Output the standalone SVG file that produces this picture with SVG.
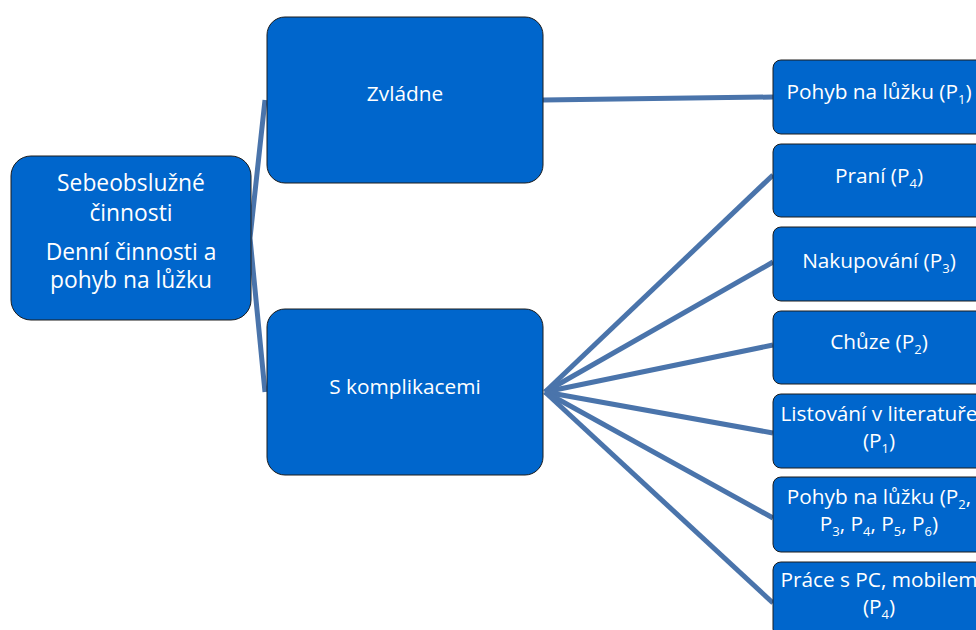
<svg xmlns="http://www.w3.org/2000/svg" width="976" height="630" viewBox="0 0 976 630">
  <style>
    .box { fill: #0066cc; stroke: #1c1c1c; stroke-width: 1; }
    .lbl { fill: #ffffff; font-family: "Open Sans", "Noto Sans", sans-serif; text-anchor: middle; }
    .mid { font-size: 22.8px; }
    .sm { font-size: 20.8px; }
    .sub { font-size: 13px; }
    .link { stroke: #4a74ab; stroke-width: 5; fill: none; stroke-linecap: butt; }
  </style>
  <rect width="976" height="630" fill="#ffffff"/>

  <!-- connectors -->
  <g id="connectors">
    <polyline class="link" stroke-width="4" points="265,100 250,238 265,392"/>
    <line class="link" x1="543" y1="100" x2="773" y2="97"/>
    <line class="link" x1="545" y1="392" x2="773" y2="175"/>
    <line class="link" x1="545" y1="392" x2="773" y2="262"/>
    <line class="link" x1="545" y1="392" x2="773" y2="345"/>
    <line class="link" x1="545" y1="392" x2="773" y2="433"/>
    <line class="link" x1="545" y1="392" x2="773" y2="518"/>
    <line class="link" x1="545" y1="392" x2="773" y2="603"/>
  </g>

  <!-- root -->
  <g id="root">
    <rect class="box" x="11" y="156" width="240" height="164" rx="20"/>
    <text class="lbl mid" x="131" y="191">Sebeobslužné</text>
    <text class="lbl mid" x="131" y="221">činnosti</text>
    <text class="lbl mid" x="131" y="260">Denní činnosti a</text>
    <text class="lbl mid" x="131" y="288">pohyb na lůžku</text>
  </g>

  <!-- second level -->
  <g id="zvladne">
    <rect class="box" x="267" y="17" width="276" height="166" rx="18"/>
    <text class="lbl sm" x="405" y="101">Zvládne</text>
  </g>
  <g id="s-komplikacemi">
    <rect class="box" x="267" y="309" width="276" height="166" rx="18"/>
    <text class="lbl sm" x="405" y="394">S komplikacemi</text>
  </g>

  <!-- leaves -->
  <g id="zvladne-pohyb">
    <rect class="box" x="773" y="60" width="212" height="74" rx="8"/>
    <text class="lbl sm" x="879" y="99">Pohyb na lůžku (P<tspan class="sub" dy="5">1</tspan><tspan dy="-5">)</tspan></text>
  </g>
  <g id="prani">
    <rect class="box" x="773" y="144" width="212" height="73" rx="8"/>
    <text class="lbl sm" x="879" y="183">Praní (P<tspan class="sub" dy="5">4</tspan><tspan dy="-5">)</tspan></text>
  </g>
  <g id="nakupovani">
    <rect class="box" x="773" y="227" width="212" height="74" rx="8"/>
    <text class="lbl sm" x="879" y="268">Nakupování (P<tspan class="sub" dy="5">3</tspan><tspan dy="-5">)</tspan></text>
  </g>
  <g id="chuze">
    <rect class="box" x="773" y="311" width="212" height="73" rx="8"/>
    <text class="lbl sm" x="879" y="349">Chůze (P<tspan class="sub" dy="5">2</tspan><tspan dy="-5">)</tspan></text>
  </g>
  <g id="listovani">
    <rect class="box" x="773" y="394" width="212" height="74" rx="8"/>
    <text class="lbl sm" x="879" y="421">Listování v literatuře</text>
    <text class="lbl sm" x="879" y="448">(P<tspan class="sub" dy="5">1</tspan><tspan dy="-5">)</tspan></text>
  </g>
  <g id="s-komplikacemi-pohyb">
    <rect class="box" x="773" y="477" width="212" height="75" rx="8"/>
    <text class="lbl sm" x="879" y="504">Pohyb na lůžku (P<tspan class="sub" dy="5">2</tspan><tspan dy="-5">,</tspan></text>
    <text class="lbl sm" x="879" y="531">P<tspan class="sub" dy="5">3</tspan><tspan dy="-5">, P</tspan><tspan class="sub" dy="5">4</tspan><tspan dy="-5">, P</tspan><tspan class="sub" dy="5">5</tspan><tspan dy="-5">, P</tspan><tspan class="sub" dy="5">6</tspan><tspan dy="-5">)</tspan></text>
  </g>
  <g id="prace">
    <rect class="box" x="773" y="562" width="212" height="75" rx="8"/>
    <text class="lbl sm" x="879" y="587">Práce s PC, mobilem</text>
    <text class="lbl sm" x="879" y="614">(P<tspan class="sub" dy="5">4</tspan><tspan dy="-5">)</tspan></text>
  </g>
</svg>
